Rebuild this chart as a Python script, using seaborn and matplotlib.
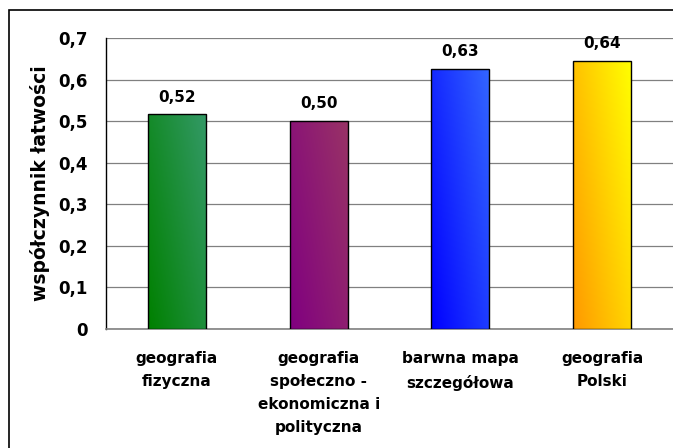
import numpy as np
import pandas as pd
import matplotlib
matplotlib.use("Agg")
import matplotlib.pyplot as plt
import seaborn as sns
from matplotlib.colors import LinearSegmentedColormap
from matplotlib.ticker import FuncFormatter, FixedLocator
from matplotlib.patches import Rectangle

categories = ["geografia\nfizyczna",
              "geografia\nspołeczno -\nekonomiczna i\npolityczna",
              "barwna mapa\nszczegółowa",
              "geografia\nPolski"]
values = [0.516, 0.500, 0.626, 0.644]
labels = ["0,52", "0,50", "0,63", "0,64"]
grad_start = ["#008000", "#800080", "#0000FF", "#FF9900"]
grad_end = ["#339966", "#993366", "#3366FF", "#FFFF00"]

sns.set_theme(style="white")
plt.rcParams['font.family'] = ['DejaVu Sans']
plt.rcParams['font.weight'] = 'bold'
plt.rcParams['text.color'] = 'black'
plt.rcParams['axes.labelcolor'] = 'black'
plt.rcParams['xtick.color'] = 'black'
plt.rcParams['ytick.color'] = 'black'

df = pd.DataFrame({"kat": categories, "wsp": values})

fig = plt.figure(figsize=(6.73, 4.48), dpi=100)
ax = fig.add_axes([106 / 673, 1 - 329 / 448, 1 - 106 / 673, (329 - 38) / 448])

sns.barplot(data=df, x="kat", y="wsp", ax=ax, width=0.41, color="white",
            edgecolor="black", linewidth=1.0, zorder=3)

# gradient fill inside each bar
grid = np.linspace(0, 1, 64)
gx, gy = np.meshgrid(grid, grid)
for patch, c0, c1 in zip(ax.patches, grad_start, grad_end):
    x0, y0 = patch.get_x(), patch.get_y()
    w, h = patch.get_width(), patch.get_height()
    cmap = LinearSegmentedColormap.from_list("g", [c0, c1])
    img = ax.imshow(0.6 * gx + 0.4 * gy, cmap=cmap, extent=[x0, x0 + w, y0, y0 + h],
                    origin="lower", aspect="auto", zorder=3.5, interpolation="bilinear")
    img.set_clip_path(patch)
    patch.set_facecolor("none")
    patch.set_zorder(4)

ax.set_xlim(-0.5, 3.5)
ax.set_ylim(0, 0.7)

for i, (v, lab) in enumerate(zip(values, labels)):
    ax.text(i, v + 0.024, lab, ha="center", va="bottom", fontsize=11,
            fontweight="bold", color="black")

ax.yaxis.set_major_locator(FixedLocator(np.arange(0, 0.71, 0.1)))
ax.yaxis.set_major_formatter(FuncFormatter(
    lambda y, _: "0" if abs(y) < 1e-9 else f"{y:.1f}".replace(".", ",")))
ax.grid(axis="y", color="#808080", linewidth=0.9, zorder=0)
ax.set_axisbelow(True)

ax.set_xticks(range(len(categories)))
ax.set_xticklabels(categories, fontsize=11, fontweight="bold", linespacing=1.65,
                   va="top", color="black")
ax.set_xticks(np.arange(-0.5, 4.0, 1.0), minor=True)
ax.tick_params(axis="x", which="major", length=0, pad=16)
ax.tick_params(axis="x", which="minor", length=5, width=1, color="black", direction="out")
ax.tick_params(axis="y", length=6, width=1, color="black", direction="out", pad=7,
               labelsize=12, labelcolor="black")
for t in ax.get_yticklabels():
    t.set_fontweight("bold")

ax.set_xlabel("")
ax.set_ylabel("współczynnik łatwości", fontsize=13.5, fontweight="bold", labelpad=6,
              color="black")

for side in ["top", "right"]:
    ax.spines[side].set_visible(False)
ax.spines["left"].set_color("black")
ax.spines["left"].set_linewidth(1)
ax.spines["bottom"].set_color("#808080")
ax.spines["bottom"].set_linewidth(1.2)

# outer chart frame (clipped at the right and bottom of the picture)
fig.patches.append(Rectangle((8.5 / 673, -0.05), 1.0, 1 - 10.5 / 448 + 0.05,
                             transform=fig.transFigure, fill=False,
                             edgecolor="black", linewidth=1.2, zorder=0))

fig.savefig("out.png", dpi=100)
